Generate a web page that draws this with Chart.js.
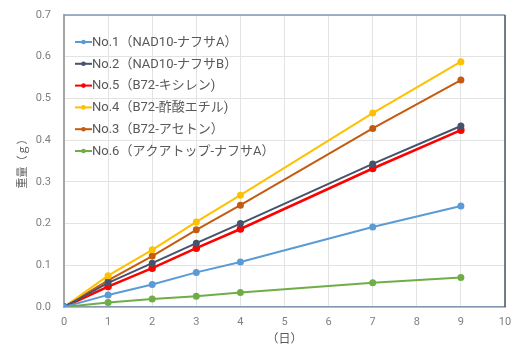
<!DOCTYPE html>
<html>
<head>
<meta charset="utf-8">
<script src="https://cdn.jsdelivr.net/npm/chart.js@4.4.0/dist/chart.umd.min.js"></script>
<style>
  body { margin: 0; background: #fff; }
  #wrap { width: 515px; height: 349px; }
</style>
</head>
<body>
<div id="wrap"><canvas id="myChart" width="515" height="349"></canvas></div>
<script>
// days on the x axis
const days = [0, 1, 2, 3, 4, 7, 9];

const labels = [
  'No.1（NAD10-ナフサA）',
  'No.2（NAD10-ナフサB）',
  'No.5（B72-キシレン)',
  'No.4（B72-酢酸エチル)',
  'No.3（B72-アセトン）',
  'No.6（アクアトップ-ナフサA）'
];

// weight (g)
const no1 = [0, 0.029, 0.054, 0.083, 0.108, 0.192, 0.242];
const no2 = [0, 0.058, 0.105, 0.153, 0.200, 0.343, 0.434];
const no5 = [0, 0.049, 0.093, 0.141, 0.187, 0.332, 0.424];
const no4 = [0, 0.075, 0.137, 0.204, 0.268, 0.465, 0.588];
const no3 = [0, 0.064, 0.122, 0.185, 0.244, 0.428, 0.544];
const no6 = [0, 0.011, 0.019, 0.026, 0.035, 0.058, 0.071];

const yTicks = [0, 0.1, 0.2, 0.3, 0.4, 0.5, 0.6, 0.7];

const colors = ['#5b9bd5', '#44546a', '#ff0000', '#ffc000', '#c55a11', '#70ad47'];
const series = [no1, no2, no5, no4, no3, no6];

const FONT = "Roboto, 'Noto Sans CJK JP', sans-serif";

function toPoints(arr) {
  return arr.map((v, i) => ({ x: days[i], y: v }));
}

// plot frame: top and right edges
const frame = {
  id: 'frame',
  afterDatasetsDraw(chart) {
    const a = chart.chartArea;
    const ctx = chart.ctx;
    ctx.save();
    ctx.lineWidth = 1.5;
    ctx.strokeStyle = '#8497b0';
    ctx.beginPath(); ctx.moveTo(a.left, a.top); ctx.lineTo(a.right, a.top); ctx.stroke();
    ctx.strokeStyle = '#44546a';
    ctx.beginPath(); ctx.moveTo(a.right, a.top); ctx.lineTo(a.right, a.bottom); ctx.stroke();
    ctx.restore();
  }
};

// legend inside the plot, excel style (line + dot)
const insideLegend = {
  id: 'insideLegend',
  afterDraw(chart) {
    const a = chart.chartArea;
    const ctx = chart.ctx;
    ctx.save();
    ctx.font = '13px ' + FONT;
    ctx.textBaseline = 'middle';
    chart.data.datasets.forEach((d, i) => {
      const x = a.left + 11;
      const y = a.top + 27 + i * 21.8;
      ctx.strokeStyle = d.borderColor;
      ctx.lineWidth = 2;
      ctx.beginPath(); ctx.moveTo(x, y); ctx.lineTo(x + 17, y); ctx.stroke();
      ctx.fillStyle = d.borderColor;
      ctx.beginPath(); ctx.arc(x + 8.5, y, 2.3, 0, Math.PI * 2); ctx.fill();
      ctx.fillStyle = '#595959';
      ctx.fillText(d.label, x + 17, y + 0.5);
    });
    ctx.restore();
  }
};

const ctx = document.getElementById('myChart').getContext('2d');
new Chart(ctx, {
  type: 'line',
  data: {
    datasets: series.map((s, i) => ({
      label: labels[i],
      data: toPoints(s),
      borderColor: colors[i],
      backgroundColor: colors[i],
      borderWidth: i === 2 ? 2.5 : 2,
      pointRadius: 2.5,
      pointHoverRadius: 2.5,
      tension: 0
    }))
  },
  options: {
    responsive: false,
    animation: false,
    layout: { padding: { top: 15, right: 10, left: 4, bottom: 0 } },
    plugins: {
      tooltip: { enabled: false },
      legend: { display: false }
    },
    scales: {
      x: {
        type: 'linear',
        min: 0,
        max: 10,
        afterFit(scale) {
          scale.height = 42;
          scale.paddingLeft = 0;
          scale.paddingRight = 0;
        },
        ticks: { stepSize: 1, color: '#7f7f7f', font: { family: FONT, size: 11 }, padding: 9 },
        grid: { color: '#e3e3e3', drawTicks: false },
        border: { color: '#8497b0', width: 1.5 },
        title: { display: true, text: '（日）', color: '#595959', font: { family: FONT, size: 12 }, padding: { top: 2, bottom: 2 } }
      },
      y: {
        min: 0,
        max: 0.7,
        afterFit(scale) {
          scale.width = 60;
          scale.paddingTop = 0;
          scale.paddingBottom = 0;
        },
        afterBuildTicks(scale) { scale.ticks = yTicks.map(v => ({ value: v })); },
        ticks: { color: '#7f7f7f', font: { family: FONT, size: 11 }, padding: 13, callback: v => v.toFixed(1) },
        grid: { color: '#e3e3e3', drawTicks: false },
        border: { color: '#a6a6a6', width: 2 },
        title: { display: true, text: '重量（ｇ）', color: '#595959', font: { family: FONT, size: 11 }, padding: { top: 13, bottom: 0 } }
      }
    }
  },
  plugins: [frame, insideLegend]
});
</script>
</body>
</html>
